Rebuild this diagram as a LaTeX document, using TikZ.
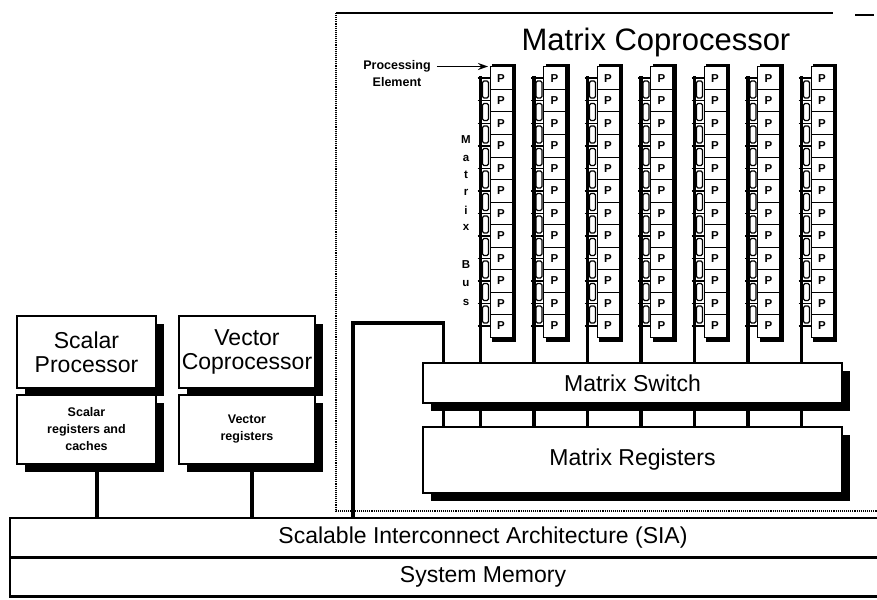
\documentclass[tikz,border=0pt]{standalone}
\usepackage{fontspec}
\setmainfont{Liberation Sans}
\usetikzlibrary{arrows.meta,shadows}

\tikzset{
  unitbox/.style={draw,line width=1.5pt,fill=white,inner sep=0pt,align=center,
    drop shadow={shadow xshift=8pt,shadow yshift=-8pt,fill=black,opacity=1}},
  bigtext/.style={font=\fontsize{23}{24}\selectfont},
  smalltext/.style={font=\bfseries\fontsize{12.5}{17}\selectfont},
  pebox/.style={draw,line width=1pt,fill=white,minimum width=22pt,minimum height=22.5pt,
    inner sep=0pt,font=\bfseries\fontsize{11.5}{11}\selectfont},
  wire/.style={line width=3.4pt},
}

\begin{document}
\begin{tikzpicture}[x=1pt,y=-1pt,>={Stealth[length=10pt,width=7pt]}]
  \useasboundingbox (0,0) rectangle (877,599);
  \clip (0,0) rectangle (877,599);
  % frame of the coprocessor
  \draw[line width=2pt] (336,13) -- (833,13);
  \draw[line width=2pt] (855,15) -- (874,15);
  \draw[line width=1.1pt,densely dotted] (336,13) -- (336,511) -- (877,511);
  \node[font=\fontsize{31}{32}\selectfont] (title) at (656,42) {Matrix Coprocessor};

  % shared bus and memory
  \node[draw,line width=1.6pt,minimum width=946pt,minimum height=39pt,bigtext] (sia) at (483,537.5)
    {Scalable Interconnect Architecture (SIA)};
  \node[draw,line width=1.6pt,minimum width=946pt,minimum height=37pt,bigtext,anchor=north] (memory) at (sia.south)
    {System Memory};
  \draw[line width=3.5pt] (memory.south west) -- (memory.south east);

  % scalar and vector units
  \node[unitbox,bigtext,minimum width=139pt,minimum height=72pt] (scalar) at (86.5,352) {Scalar\\Processor};
  \node[unitbox,smalltext,minimum width=139pt,minimum height=69pt] (scalarreg) at (86.5,429.5) {Scalar\\registers and\\caches};
  \node[unitbox,bigtext,minimum width=136pt,minimum height=72pt] (vector) at (247,352) {Vector\\Coprocessor};
  \node[unitbox,smalltext,minimum width=136pt,minimum height=69pt] (vectorreg) at (247,429.5) {Vector\\registers};
  \coordinate (sdrop) at ([xshift=10.5pt]scalarreg.south);
  \coordinate (vdrop) at ([xshift=5pt]vectorreg.south);
  \draw[wire] (sdrop) -- (sdrop |- sia.north);
  \draw[wire] (vdrop) -- (vdrop |- sia.north);

  % switch and registers
  \node[unitbox,bigtext,minimum width=419pt,minimum height=40pt] (switch) at (632.5,383) {Matrix Switch};
  \node[unitbox,bigtext,minimum width=419pt,minimum height=66pt] (registers) at (632.5,460) {Matrix Registers};

  % columns of processing elements
  \foreach \k in {0,...,6} {
    \pgfmathsetmacro{\bx}{481+53.5*\k}
    \fill (\bx+11,64) rectangle (\bx+35,341.5);
    \foreach \r in {0,...,10}
      \draw[line width=1.1pt,fill=white,rounded corners=1.5pt] (\bx+1.5,81+22.5*\r) rectangle (\bx+7.5,98+22.5*\r);
    \foreach \r in {0,...,11}
      \node[pebox] (pe-\k-\r) at (\bx+20,78.25+22.5*\r) {P};
    \foreach \r in {0,...,11} {
      \draw[line width=1.5pt] (\bx,78.25+22.5*\r) -- (pe-\k-\r.west);
      \draw[line width=1.5pt] (\bx-3.5,78.25+22.5*\r) -- (\bx,78.25+22.5*\r);
    }
    \coordinate (bus-\k) at ([xshift=-9pt]pe-\k-0.north west);
    \draw[wire] (bus-\k) ++(0,10) -- (bus-\k |- switch.north);
    \draw[wire] (bus-\k |- switch.south) -- (bus-\k |- registers.north);
  }

  % link from the switch down to the SIA
  \coordinate (tap) at ([xshift=21pt]switch.north west);
  \coordinate (bend) at (353,323);
  \draw[wire] (tap) |- (bend) -- (bend |- sia.north);
  \draw[wire] (tap |- switch.south) -- (tap |- registers.north);

  % matrix bus label
  \foreach \ch/\yy in {M/140,a/158,t/175,r/192,i/210,x/227,B/265,u/284,s/302}
    \node[font=\bfseries\fontsize{11.5}{11}\selectfont,inner sep=0pt] (mbus-\ch) at (466,\yy) {\ch};

  % processing element callout
  \node[align=center,inner sep=0pt,font=\bfseries\fontsize{12.5}{17}\selectfont] (pelabel) at (397,73.5) {Processing\\Element};
  \coordinate (petip) at ([xshift=6pt]pelabel.east);
  \draw[->,line width=1.4pt] (petip |- pe-0-0.north) -- ([xshift=-1.5pt]pe-0-0.north west);
\end{tikzpicture}
\end{document}
